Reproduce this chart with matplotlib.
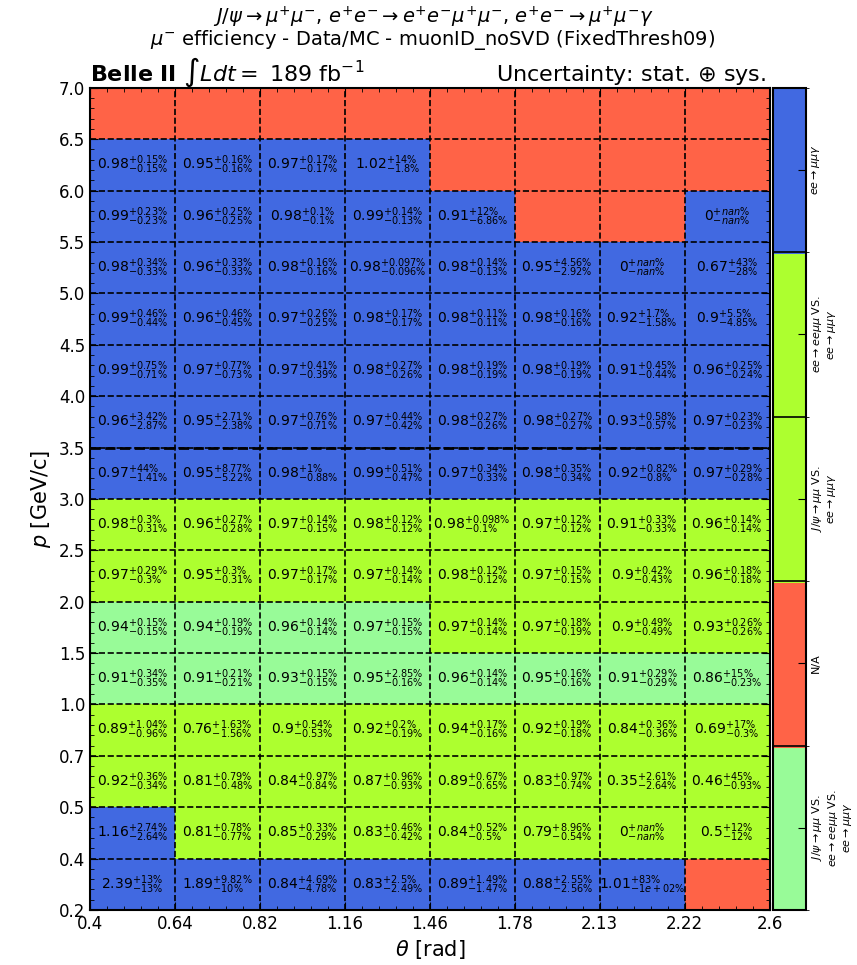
"""Belle II muon ID efficiency ratio map (Data/MC) in p-theta bins."""

import matplotlib

matplotlib.use("Agg")
import matplotlib.pyplot as plt
import numpy as np
from matplotlib.colors import BoundaryNorm, ListedColormap
from matplotlib.ticker import AutoMinorLocator

# %% Data (rows from low p to high p, columns from low theta to high theta)
theta_edges = ["0.4", "0.64", "0.82", "1.16", "1.46", "1.78", "2.13", "2.22", "2.6"]
p_edges = ["0.2", "0.4", "0.5", "0.7", "1.0", "1.5", "2.0", "2.5", "3.0",
           "3.5", "4.0", "4.5", "5.0", "5.5", "6.0", "6.5", "7.0"]

# efficiency ratio, None = no measurement (N/A)
eff = [
    ["2.39", "1.89", "0.84", "0.83", "0.89", "0.88", "1.01", None],
    ["1.16", "0.81", "0.85", "0.83", "0.84", "0.79", "0", "0.5"],
    ["0.92", "0.81", "0.84", "0.87", "0.89", "0.83", "0.35", "0.46"],
    ["0.89", "0.76", "0.9", "0.92", "0.94", "0.92", "0.84", "0.69"],
    ["0.91", "0.91", "0.93", "0.95", "0.96", "0.95", "0.91", "0.86"],
    ["0.94", "0.94", "0.96", "0.97", "0.97", "0.97", "0.9", "0.93"],
    ["0.97", "0.95", "0.97", "0.97", "0.98", "0.97", "0.9", "0.96"],
    ["0.98", "0.96", "0.97", "0.98", "0.98", "0.97", "0.91", "0.96"],
    ["0.97", "0.95", "0.98", "0.99", "0.97", "0.98", "0.92", "0.97"],
    ["0.96", "0.95", "0.97", "0.97", "0.98", "0.98", "0.93", "0.97"],
    ["0.99", "0.97", "0.97", "0.98", "0.98", "0.98", "0.91", "0.96"],
    ["0.99", "0.96", "0.97", "0.98", "0.98", "0.98", "0.92", "0.9"],
    ["0.98", "0.96", "0.98", "0.98", "0.98", "0.95", "0", "0.67"],
    ["0.99", "0.96", "0.98", "0.99", "0.91", None, None, "0"],
    ["0.98", "0.95", "0.97", "1.02", None, None, None, None],
    [None, None, None, None, None, None, None, None],
]
err_up = [
    ["13", "9.82", "4.69", "2.5", "1.49", "2.55", "83", None],
    ["2.74", "0.78", "0.33", "0.46", "0.52", "8.96", "nan", "12"],
    ["0.36", "0.79", "0.97", "0.96", "0.67", "0.97", "2.61", "45"],
    ["1.04", "1.63", "0.54", "0.2", "0.17", "0.19", "0.36", "17"],
    ["0.34", "0.21", "0.15", "2.85", "0.14", "0.16", "0.29", "15"],
    ["0.15", "0.19", "0.14", "0.15", "0.14", "0.18", "0.49", "0.26"],
    ["0.29", "0.3", "0.17", "0.14", "0.12", "0.15", "0.42", "0.18"],
    ["0.3", "0.27", "0.14", "0.12", "0.098", "0.12", "0.33", "0.14"],
    ["44", "8.77", "1", "0.51", "0.34", "0.35", "0.82", "0.29"],
    ["3.42", "2.71", "0.76", "0.44", "0.27", "0.27", "0.58", "0.23"],
    ["0.75", "0.77", "0.41", "0.27", "0.19", "0.19", "0.45", "0.25"],
    ["0.46", "0.46", "0.26", "0.17", "0.11", "0.16", "1.7", "5.5"],
    ["0.34", "0.33", "0.16", "0.097", "0.14", "4.56", "nan", "43"],
    ["0.23", "0.25", "0.1", "0.14", "12", None, None, "nan"],
    ["0.15", "0.16", "0.17", "14", None, None, None, None],
    [None, None, None, None, None, None, None, None],
]
err_dn = [
    ["13", "10", "4.78", "2.49", "1.47", "2.56", "1e+02", None],
    ["2.64", "0.77", "0.29", "0.42", "0.5", "0.54", "nan", "12"],
    ["0.34", "0.48", "0.84", "0.93", "0.65", "0.74", "2.64", "0.93"],
    ["0.96", "1.56", "0.53", "0.19", "0.16", "0.18", "0.36", "0.3"],
    ["0.35", "0.21", "0.15", "0.16", "0.14", "0.16", "0.29", "0.23"],
    ["0.15", "0.19", "0.14", "0.15", "0.14", "0.19", "0.49", "0.26"],
    ["0.3", "0.31", "0.17", "0.14", "0.12", "0.15", "0.43", "0.18"],
    ["0.31", "0.28", "0.15", "0.12", "0.1", "0.12", "0.33", "0.14"],
    ["1.41", "5.22", "0.88", "0.47", "0.33", "0.34", "0.8", "0.28"],
    ["2.87", "2.38", "0.71", "0.42", "0.26", "0.27", "0.57", "0.23"],
    ["0.71", "0.73", "0.39", "0.26", "0.19", "0.19", "0.44", "0.24"],
    ["0.44", "0.45", "0.25", "0.17", "0.11", "0.16", "1.58", "4.85"],
    ["0.33", "0.33", "0.16", "0.096", "0.13", "2.92", "nan", "28"],
    ["0.23", "0.25", "0.1", "0.13", "6.86", None, None, "nan"],
    ["0.15", "0.16", "0.17", "1.8", None, None, None, None],
    [None, None, None, None, None, None, None, None],
]
# sample combination used per bin:
# 0 = Jpsi+eemumu+mumugamma, 1 = N/A, 2 = Jpsi+mumugamma, 3 = eemumu+mumugamma, 4 = mumugamma
method = [
    [4, 4, 4, 4, 4, 4, 4, 1],
    [4, 3, 3, 3, 3, 3, 3, 3],
    [3, 3, 3, 3, 3, 3, 3, 3],
    [3, 3, 3, 3, 3, 3, 3, 3],
    [0, 0, 0, 0, 0, 0, 0, 0],
    [0, 0, 0, 0, 2, 2, 2, 2],
    [2, 2, 2, 2, 2, 2, 2, 2],
    [2, 2, 2, 2, 2, 2, 2, 2],
    [4, 4, 4, 4, 4, 4, 4, 4],
    [4, 4, 4, 4, 4, 4, 4, 4],
    [4, 4, 4, 4, 4, 4, 4, 4],
    [4, 4, 4, 4, 4, 4, 4, 4],
    [4, 4, 4, 4, 4, 4, 4, 4],
    [4, 4, 4, 4, 4, 1, 1, 4],
    [4, 4, 4, 4, 1, 1, 1, 1],
    [1, 1, 1, 1, 1, 1, 1, 1],
]
method_colors = ["palegreen", "tomato", "greenyellow", "greenyellow", "royalblue"]
method_labels = [
    "$J/\\psi\\rightarrow\\mu\\mu$ VS.\n$ee\\rightarrow ee\\mu\\mu$ VS.\n$ee\\rightarrow\\mu\\mu\\gamma$",
    "N/A",
    "$J/\\psi\\rightarrow\\mu\\mu$ VS.\n$ee\\rightarrow\\mu\\mu\\gamma$",
    "$ee\\rightarrow ee\\mu\\mu$ VS.\n$ee\\rightarrow\\mu\\mu\\gamma$",
    "$ee\\rightarrow\\mu\\mu\\gamma$",
]

# %% Plot
fig = plt.figure(figsize=(8.57, 9.65), dpi=100)
ax = fig.add_axes([0.105, 0.057, 0.793, 0.852])
cax = fig.add_axes([0.902, 0.057, 0.038, 0.852])

cmap = ListedColormap(method_colors)
norm = BoundaryNorm(np.arange(-0.5, len(method_colors) + 0.5, 1), cmap.N)

n_x, n_y = len(theta_edges) - 1, len(p_edges) - 1
ax.pcolormesh(np.arange(n_x + 1), np.arange(n_y + 1), np.array(method),
              cmap=cmap, norm=norm)

for j in range(n_y):
    for i in range(n_x):
        if eff[j][i] is None:
            continue
        label = rf"${eff[j][i]}^{{+{err_up[j][i]}\%}}_{{-{err_dn[j][i]}\%}}$"
        ax.text(i + 0.5, j + 0.5, label, ha="center", va="center", fontsize=10)

ax.set_xlim(0, n_x)
ax.set_ylim(0, n_y)
ax.set_xticks(np.arange(n_x + 1))
ax.set_xticklabels(theta_edges)
ax.set_yticks(np.arange(n_y + 1))
ax.set_yticklabels(p_edges)
ax.xaxis.set_minor_locator(AutoMinorLocator(5))
ax.yaxis.set_minor_locator(AutoMinorLocator(5))
ax.tick_params(which="both", direction="in", top=True, right=True, labelsize=12)
ax.tick_params(which="major", length=6)
ax.tick_params(which="minor", length=3)
ax.grid(True, which="major", color="black", linestyle="--", linewidth=1.2)
ax.axhline(9, color="black", linestyle="--", linewidth=2.0)
for s in ax.spines.values():
    s.set_linewidth(1.5)

ax.set_xlabel(r"$\theta$ [rad]", fontsize=15)
ax.set_ylabel(r"$p$ [GeV/c]", fontsize=15)

fig.text(0.505, 0.982,
         r"$J/\psi\rightarrow\mu^{+}\mu^{-}$, $e^{+}e^{-}\rightarrow e^{+}e^{-}\mu^{+}\mu^{-}$, "
         r"$e^{+}e^{-}\rightarrow\mu^{+}\mu^{-}\gamma$",
         ha="center", va="center", fontsize=14)
fig.text(0.505, 0.9585,
         r"$\mu^{-}$ efficiency - Data/MC - muonID_noSVD (FixedThresh09)",
         ha="center", va="center", fontsize=14)
ax.text(0.0, 1.008, r"$\mathbf{Belle\ II}$ $\int Ldt = $ 189 fb$^{-1}$",
        transform=ax.transAxes, ha="left", va="baseline", fontsize=16)
ax.text(0.995, 1.008, r"Uncertainty: stat. $\oplus$ sys.",
        transform=ax.transAxes, ha="right", va="baseline", fontsize=16)

cb = matplotlib.colorbar.ColorbarBase(cax, cmap=cmap, norm=norm,
                                      ticks=np.arange(len(method_colors)))
cb.ax.set_yticklabels(method_labels, rotation=90, va="center", ha="left",
                      fontsize=8, multialignment="center")
cb.ax.tick_params(direction="in", length=6)
cb.outline.set_linewidth(1.5)
cb.solids.set_edgecolor("face")
for k in range(1, len(method_colors)):
    cb.ax.axhline(k - 0.5, color="black", linewidth=1.2)

fig.savefig("out.png", dpi=100)
